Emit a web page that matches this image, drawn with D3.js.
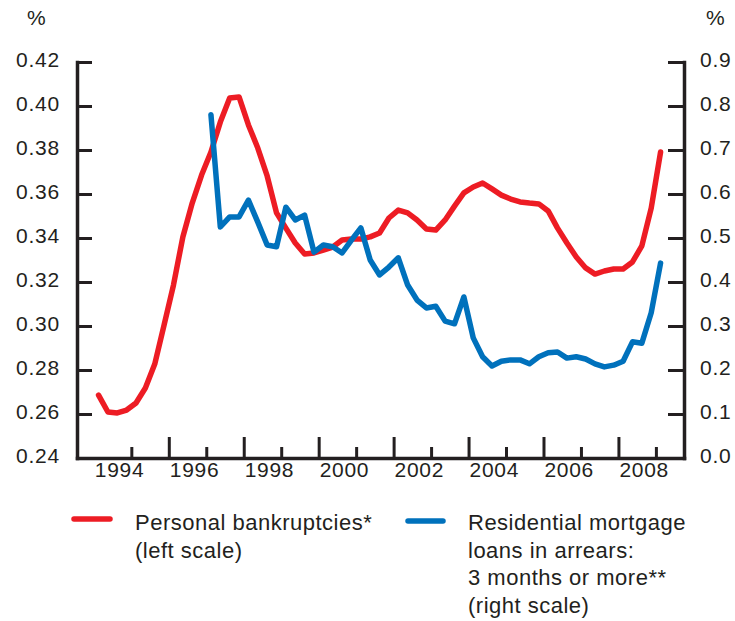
<!DOCTYPE html>
<html>
<head>
<meta charset="utf-8">
<script src="https://cdn.jsdelivr.net/npm/d3@7"></script>
<style>
  body { margin: 0; background: #fff; }
  text { font-family: "Liberation Sans", Arial, sans-serif; fill: #231f20; }
</style>
</head>
<body>
<svg id="chart" width="735" height="621"></svg>
<script>
// quarterly series, 1994Q1 onward (personal bankruptcies, % , left scale)
var bankruptcies = [
  0.2686, 0.2609, 0.2605, 0.2618, 0.2650, 0.2718, 0.2827, 0.3005,
  0.3186, 0.3405, 0.3559, 0.3686, 0.3791, 0.3927, 0.4036, 0.4041,
  0.3914, 0.3809, 0.3682, 0.3514, 0.3445, 0.3377, 0.3327, 0.3332,
  0.3345, 0.3359, 0.3391, 0.3395, 0.3395, 0.3405, 0.3423, 0.3491,
  0.3527, 0.3514, 0.3482, 0.3441, 0.3436, 0.3482, 0.3545, 0.3605,
  0.3632, 0.3650, 0.3623, 0.3595, 0.3577, 0.3564, 0.3559, 0.3555,
  0.3523, 0.3445, 0.3377, 0.3314, 0.3264, 0.3236, 0.3250, 0.3259,
  0.3259, 0.3291, 0.3364, 0.3536, 0.3791
];
var bankruptcyStart = 1994;

// quarterly series, 1997Q1 onward (mortgages in arrears 3 months+, %, right scale)
var arrears = [
  0.780, 0.525, 0.548, 0.548, 0.586, 0.536, 0.484, 0.480,
  0.570, 0.541, 0.552, 0.468, 0.484, 0.480, 0.466, 0.495,
  0.523, 0.450, 0.416, 0.434, 0.455, 0.393, 0.359, 0.341,
  0.345, 0.311, 0.305, 0.366, 0.273, 0.230, 0.209, 0.220,
  0.223, 0.223, 0.214, 0.230, 0.239, 0.241, 0.227, 0.230,
  0.225, 0.214, 0.207, 0.211, 0.220, 0.264, 0.261, 0.330,
  0.443
];
var arrearsStart = 1997;

var leftTicks = [0.24, 0.26, 0.28, 0.30, 0.32, 0.34, 0.36, 0.38, 0.40, 0.42];
var rightTicks = [0, 0.1, 0.2, 0.3, 0.4, 0.5, 0.6, 0.7, 0.8, 0.9];
var yearLabels = [1994, 1996, 1998, 2000, 2002, 2004, 2006, 2008];
var longYears = [1996, 1998, 2000, 2002, 2004, 2006, 2008];
var shortYears = [1995, 1997, 1999, 2001, 2003, 2005, 2007, 2009];

var red = "#ed1c24", blue = "#0071bc", ink = "#231f20";

// quarters plotted at mid-quarter
function quarterly(values, startYear) {
  return values.map(function(v, i) { return { t: startYear + i * 0.25 + 0.125, v: v }; });
}

var svg = d3.select("#chart");

var x = d3.scaleLinear().domain([1993.55, 2009.75]).range([77, 684]);
var yL = d3.scaleLinear().domain([0.24, 0.42]).range([458, 62]);
var yR = d3.scaleLinear().domain([0, 0.9]).range([458, 62]);

function styleAxis(g) {
  g.selectAll("path.domain").attr("stroke", ink).attr("stroke-width", 3.5).attr("stroke-linecap", "square");
  g.selectAll(".tick line").attr("stroke", ink).attr("stroke-width", 3);
}

// lines
var lineL = d3.line().x(function(d) { return x(d.t); }).y(function(d) { return yL(d.v); });
var lineR = d3.line().x(function(d) { return x(d.t); }).y(function(d) { return yR(d.v); });

svg.append("path")
  .datum(quarterly(bankruptcies, bankruptcyStart))
  .attr("d", lineL)
  .attr("fill", "none").attr("stroke", red).attr("stroke-width", 5.5)
  .attr("stroke-linejoin", "round").attr("stroke-linecap", "round");

svg.append("path")
  .datum(quarterly(arrears, arrearsStart))
  .attr("d", lineR)
  .attr("fill", "none").attr("stroke", blue).attr("stroke-width", 5.5)
  .attr("stroke-linejoin", "round").attr("stroke-linecap", "round");

// left axis, ticks inward
svg.append("g")
  .attr("transform", "translate(77,0)")
  .call(d3.axisRight(yL).tickValues(leftTicks).tickSize(15).tickSizeOuter(0).tickFormat(d3.format(".2f")))
  .call(styleAxis)
  .call(function(g) {
    g.selectAll("text").attr("x", -17).attr("dy", 4).attr("text-anchor", "end")
      .style("font-size", "21px").style("letter-spacing", "0.8px").attr("fill", ink);
  });

// right axis, ticks inward
svg.append("g")
  .attr("transform", "translate(684,0)")
  .call(d3.axisLeft(yR).tickValues(rightTicks).tickSize(16).tickSizeOuter(0).tickFormat(d3.format(".1f")))
  .call(styleAxis)
  .call(function(g) {
    g.selectAll("text").attr("x", 16).attr("dy", 4).attr("text-anchor", "start")
      .style("font-size", "21px").style("letter-spacing", "0.8px").attr("fill", ink);
  });

// bottom axis: long ticks on even years, short on odd years
svg.append("g")
  .attr("transform", "translate(0,458)")
  .call(d3.axisTop(x).tickValues(longYears).tickSize(21).tickSizeOuter(0).tickFormat(""))
  .call(styleAxis);

svg.append("g")
  .attr("transform", "translate(0,458)")
  .call(d3.axisTop(x).tickValues(shortYears).tickSize(11).tickSizeOuter(0).tickFormat(""))
  .call(styleAxis)
  .call(function(g) { g.select("path.domain").remove(); });

svg.append("g").selectAll("text")
  .data(yearLabels)
  .enter().append("text")
  .attr("x", function(d) { return x(d) + 1; })
  .attr("y", 477)
  .style("font-size", "21px").style("letter-spacing", "0.7px")
  .text(function(d) { return d; });

// unit labels
svg.append("text").attr("x", 27).attr("y", 25).style("font-size", "21px").text("%");
svg.append("text").attr("x", 706).attr("y", 25).style("font-size", "21px").text("%");

// legend
var legend = svg.append("g").style("font-size", "22px").style("letter-spacing", "0.5px");

legend.append("line").attr("x1", 74).attr("x2", 110).attr("y1", 519).attr("y2", 519)
  .attr("stroke", red).attr("stroke-width", 5.5).attr("stroke-linecap", "round");
legend.append("text").attr("x", 135).attr("y", 530).text("Personal bankruptcies*");
legend.append("text").attr("x", 135).attr("y", 558).text("(left scale)");

legend.append("line").attr("x1", 408).attr("x2", 443).attr("y1", 521).attr("y2", 521)
  .attr("stroke", blue).attr("stroke-width", 5.5).attr("stroke-linecap", "round");
var blueText = ["Residential mortgage", "loans in arrears:", "3 months or more**", "(right scale)"];
legend.selectAll("text.blue")
  .data(blueText)
  .enter().append("text")
  .attr("class", "blue")
  .attr("x", 468)
  .attr("y", function(d, i) { return 530 + i * 27.7; })
  .text(function(d) { return d; });
</script>
</body>
</html>
